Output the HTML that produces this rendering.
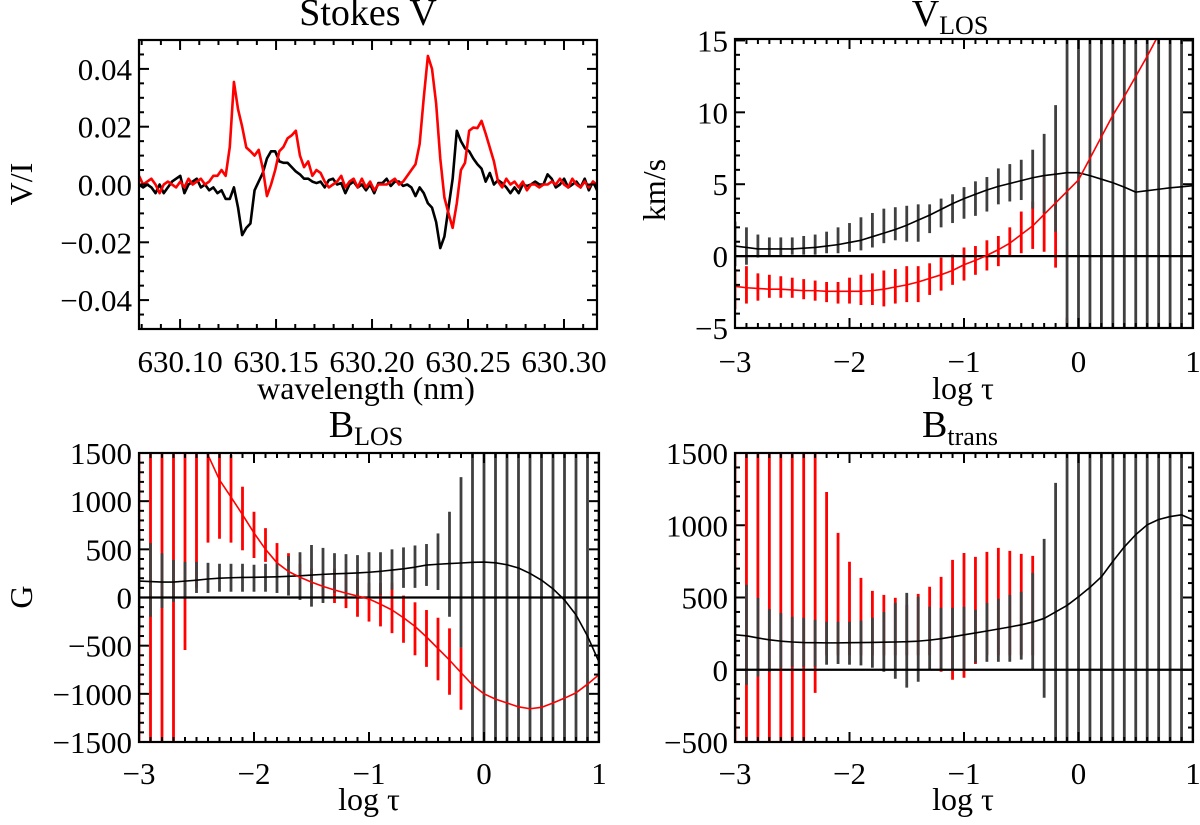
<!DOCTYPE html>
<html><head><meta charset="utf-8"><style>
html,body{margin:0;padding:0;background:#fff;width:1200px;height:825px;overflow:hidden;}
svg{display:block;}
text{font-family:"Liberation Serif","Times New Roman",serif;}
</style></head><body>
<svg id="fig" width="1200" height="825" viewBox="0 0 1200 825" xmlns="http://www.w3.org/2000/svg" font-family="Liberation Serif, serif"></svg>
<script>
// ---------- Stokes V data (Hinode SP-like sampling) ----------
const lambdaStart = 630.0786;
const lambdaStep = 0.00215;
const stokesBlack = [0,-1,0,-1,-3,0,-3,-1,1,2,3,-3,0,1,2,-1,0,-2,-1,-3,-2,-5,-5,-1,-8,-17.5,-15,-13.5,-2,1,4,9,11.5,11.5,8,7.5,7.5,6,4.5,3.5,2,2,1,0.5,1,-1,1.5,2,0,0.5,-3,0,1,-1,0,-2,0,-3,0.5,0.5,2,-0.5,1,1,-0.5,0,-1,-4,-1,-3,-6.5,-8,-13,-22,-18,-8,2,18.6,15,12.5,11.5,9,7,5.5,1,4,0,1.5,0.5,-1,-3,-1,-3,0,-0.5,0,1,0,0,3.5,2,-1,0,2,-1,0,1,-1,2,-2,1,-2];
const stokesRed = [3,0,1,2,0,-3,0,1,0,-1,1,-1,2,0,1,2,0,1,3,3,5,3,13,35.5,26,20,12.8,11.5,10,12,5.5,-4,0,5,11.5,13,16,17,18.6,10,6,8,3,5,4,1,-1,0,1,3,-1,1,2,-1,2,-1,1,-2,0,0,0,1,2,0,1,3,5,7,14,30,44.5,40,28,9,-4.5,-10,-15,-6.5,5,7.5,18.6,19.7,19.5,22,17.6,12.8,8,1,-1,2,0,1,-1,1,-2,0,0,-1,0,0,1,0,2,0,-1,2,0,-1,1,-1,1,0,-2];
const stokesScale = 0.001;

// ---------- log tau grid ----------
const logTau = [-3,-2.9,-2.8,-2.7,-2.6,-2.5,-2.4,-2.3,-2.2,-2.1,-2,-1.9,-1.8,-1.7,-1.6,-1.5,-1.4,-1.3,-1.2,-1.1,-1,-0.9,-0.8,-0.7,-0.6,-0.5,-0.4,-0.3,-0.2,-0.1,0,0.1,0.2,0.3,0.4,0.5,0.6,0.7,0.8,0.9,1];

// ---------- V_LOS ----------
const vlosBlack = [0.7,0.6,0.5,0.5,0.5,0.5,0.55,0.6,0.7,0.8,0.95,1.1,1.35,1.6,1.85,2.15,2.5,2.85,3.25,3.65,4.0,4.3,4.6,4.85,5.05,5.25,5.45,5.6,5.7,5.8,5.8,5.6,5.35,5.1,4.8,4.45,4.55,4.65,4.75,4.82,4.9];
const vlosRed = [-2.1,-2.2,-2.25,-2.3,-2.3,-2.35,-2.4,-2.4,-2.45,-2.45,-2.45,-2.45,-2.4,-2.3,-2.15,-2.0,-1.8,-1.55,-1.3,-1.0,-0.6,-0.3,0.05,0.45,0.9,1.5,2.1,2.9,3.7,4.5,5.3,6.8,8.3,9.8,11.1,12.5,13.9,15.4,17,18.6,20.3];
const vlosBlackLo = [-0.7,-0.6,-0.1,0,0,0.1,0.1,0.1,0.2,0.2,0.3,0.4,0.6,0.9,1.1,1.0,1.0,1.6,2.0,2.3,2.6,2.8,3.1,3.6,3.8,3.9,3.3,3.0,1.7,-99,-99,-99,-99,-99,-99,-99,-99,-99,-99,-99,-99];
const vlosBlackHi = [2.4,2.0,1.5,1.3,1.3,1.3,1.4,1.5,1.7,2.0,2.3,2.7,3.0,3.3,3.4,3.5,3.6,3.6,4.0,4.3,4.8,5.2,5.5,6.1,6.4,6.7,7.4,8.5,10.5,99,99,99,99,99,99,99,99,99,99,99,99];
const vlosRedLo = [-3.7,-3.3,-3.1,-2.9,-2.9,-2.9,-3.0,-3.1,-3.2,-3.3,-3.3,-3.4,-3.4,-3.5,-3.3,-3.2,-3.2,-2.7,-2.4,-2.0,-1.7,-1.3,-1.0,-0.7,0.0,0.2,0.5,0.3,-0.8,-12,null,null,null,null,null,null,null,null,null,null,null];
const vlosRedHi = [-0.9,-0.7,-1.2,-1.3,-1.4,-1.5,-1.6,-1.7,-1.8,-1.8,-1.5,-1.3,-1.2,-1.0,-0.9,-0.7,-0.7,-0.5,-0.1,0.1,0.6,0.7,1.1,1.4,2.0,3.1,3.8,5.5,6.0,-4.3,null,null,null,null,null,null,null,null,null,null,null];

// ---------- B_LOS ----------
const blosBlack = [171,165,160,160,170,180,192,200,205,208,210,212,215,220,225,233,240,246,250,255,262,272,285,298,315,337,345,352,358,365,368,360,340,306,250,180,90,-26,-180,-400,-670];
const blosRed = [2600,2450,2300,2150,1950,1700,1480,1220,1043,860,670,500,360,270,210,160,115,78,45,15,-15,-70,-130,-210,-300,-410,-530,-650,-780,-907,-1000,-1055,-1095,-1135,-1155,-1140,-1095,-1045,-990,-900,-800];
const blosBlackLo = [-340,-200,-110,-45,-15,47,47,60,60,60,60,60,47,20,-25,-95,-57,47,15,10,10,25,80,100,100,120,78,-200,-520,-9999,-9999,-9999,-9999,-9999,-9999,-9999,-9999,-9999,-9999,-9999,-9999];
const blosBlackHi = [680,565,460,390,370,370,360,350,350,350,340,350,370,430,470,545,515,460,450,440,470,470,500,520,540,555,665,890,1250,9999,9999,9999,9999,9999,9999,9999,9999,9999,9999,9999,9999];
const blosRedLo = [-9999,-9999,-9999,-9999,-545,100,570,610,570,490,410,370,370,380,200,100,0,-57,-110,-200,-250,-300,-370,-470,-600,-720,-860,-1010,-1165,null,null,null,null,null,null,null,null,null,null,null,null];
const blosRedHi = [9999,9999,9999,9999,9999,9999,9999,9999,1480,1150,890,720,565,460,350,300,250,300,250,200,150,150,150,20,-50,-130,-210,-320,-520,null,null,null,null,null,null,null,null,null,null,null,null];

// ---------- B_trans ----------
const btrBlack = [242,235,220,207,198,192,188,187,186,186,187,188,189,191,192,194,198,205,215,228,242,255,268,282,296,311,330,355,400,445,505,570,643,750,850,935,1003,1040,1060,1072,1037];
const btrBlackLo = [-207,-104,-48,-14,14,20,20,20,35,40,35,30,14,-14,-62,-124,-83,0,0,0,0,48,55,55,55,70,0,-194,-9999,-9999,-9999,-9999,-9999,-9999,-9999,-9999,-9999,-9999,-9999,-9999,-9999];
const btrBlackHi = [705,588,498,420,393,367,360,346,332,332,332,340,360,400,463,532,505,436,429,429,436,415,463,491,518,540,670,906,1293,9999,9999,9999,9999,9999,9999,9999,9999,9999,9999,9999,9999];
const btrRedLo = [-9999,-9999,-9999,-9999,-9999,-9999,-9999,-160,100,100,100,100,100,100,100,100,100,100,-14,-69,-55,40,100,100,100,100,100,null,null,null,null,null,null,null,null,null,null,null,null,null,null];
const btrRedHi = [9999,9999,9999,9999,9999,9999,9999,9999,1230,947,747,636,546,518,498,450,525,574,643,760,808,781,816,843,823,802,788,null,null,null,null,null,null,null,null,null,null,null,null,null,null];

// ---------- tick labels ----------
const stokesXTicks = [630.10,630.15,630.20,630.25,630.30];
const stokesXLabels = ["630.10","630.15","630.20","630.25","630.30"];
const stokesYTicks = [-0.04,-0.02,0,0.02,0.04];
const stokesYLabels = ["\u22120.04","\u22120.02","0.00","0.02","0.04"];
const tauTicks = [-3,-2,-1,0,1];
const tauLabels = ["\u22123","\u22122","\u22121","0","1"];
const vlosYTicks = [-5,0,5,10,15];
const vlosYLabels = ["\u22125","0","5","10","15"];
const blosYTicks = [-1500,-1000,-500,0,500,1000,1500];
const blosYLabels = ["\u22121500","\u22121000","\u2212500","0","500","1000","1500"];
const btrYTicks = [-500,0,500,1000,1500];
const btrYLabels = ["\u2212500","0","500","1000","1500"];

const NS = "http://www.w3.org/2000/svg";
const FONT = '"Liberation Serif", "Times New Roman", serif';
const TICKFS = 31;
const LABFS = 32;
const svg = document.getElementById('fig');
function mk(tag, attrs, parent){
  const e = document.createElementNS(NS, tag);
  for (const k in attrs) e.setAttribute(k, attrs[k]);
  (parent||svg).appendChild(e);
  return e;
}
function linScale(d0,d1,r0,r1){ return v => r0 + (v-d0)/(d1-d0)*(r1-r0); }

function makePanel(p){
  const g = mk('g', {});
  
  
  const X = linScale(p.xd[0],p.xd[1],p.x0,p.x1);
  const Y = linScale(p.yd[0],p.yd[1],p.y1,p.y0);
  const cp = mk('clipPath', {id:'clip-'+p.name}, g);
  mk('rect', {x:p.x0, y:p.y0, width:p.x1-p.x0, height:p.y1-p.y0}, cp);
  const plot = mk('g', {'clip-path':'url(#clip-'+p.name+')'}, g);
  
  
  return {g, plot, X, Y, p};
}
function clampY(P, v){ return Math.max(P.p.yd[0], Math.min(P.p.yd[1], v)); }

function errBars(P, xs, lo, hi, color, name){
  const grp = mk('g', {}, P.plot);
  
  
  for (let i=0;i<xs.length;i++){
    if (lo[i]===null || hi[i]===null) continue;
    const l = mk('line', {x1:P.X(xs[i]), x2:P.X(xs[i]), y1:P.Y(clampY(P,lo[i])), y2:P.Y(clampY(P,hi[i])), stroke:color, 'stroke-width':2.8}, grp);
    
    
  }
}
function curve(P, xs, ys, color, w, name){
  let d = '';
  const pad = (P.p.yd[1]-P.p.yd[0])*0.3;
  for (let i=0;i<xs.length;i++){
    const v = Math.max(P.p.yd[0]-pad, Math.min(P.p.yd[1]+pad, ys[i]));
    d += (i?'L':'M') + P.X(xs[i]).toFixed(2) + ',' + P.Y(v).toFixed(2);
  }
  const e = mk('path', {d, fill:'none', stroke:color, 'stroke-width':w, 'stroke-linejoin':'round'}, P.plot);
  
  
}
function zeroLine(P){
  const e = mk('line', {x1:P.p.x0, x2:P.p.x1, y1:P.Y(0), y2:P.Y(0), stroke:'#000', 'stroke-width':2.2}, P.plot);
  
  
}
function axes(P, xt, xl, xminStep, yt, yl, yminStep, xLabY){
  const p = P.p, g = P.g;
  const fr = mk('rect', {x:p.x0, y:p.y0, width:p.x1-p.x0, height:p.y1-p.y0, fill:'none', stroke:'#000', 'stroke-width':2.2}, g);
  
  
  const tg = mk('g', {stroke:'#000', 'stroke-width':2}, g);
  
  
  const lo = Math.min(p.xd[0],p.xd[1]), hi = Math.max(p.xd[0],p.xd[1]);
  for (let v=Math.ceil(lo/xminStep-1e-6)*xminStep; v<=hi+1e-9; v+=xminStep){
    const isMaj = xt.some(t=>Math.abs(t-v)<xminStep*0.1);
    const L = isMaj?10:5, x=P.X(v);
    mk('line',{x1:x,x2:x,y1:p.y1,y2:p.y1-L},tg);
    mk('line',{x1:x,x2:x,y1:p.y0,y2:p.y0+L},tg);
  }
  for (let v=Math.ceil(p.yd[0]/yminStep-1e-6)*yminStep; v<=p.yd[1]+1e-9; v+=yminStep){
    const isMaj = yt.some(t=>Math.abs(t-v)<yminStep*0.1);
    const L = isMaj?10:5, y=P.Y(v);
    mk('line',{x1:p.x0,x2:p.x0+L,y1:y,y2:y},tg);
    mk('line',{x1:p.x1,x2:p.x1-L,y1:y,y2:y},tg);
  }
  for (let i=0;i<xt.length;i++){
    const t = mk('text',{x:P.X(xt[i]), y:xLabY, 'text-anchor':'middle', 'font-size':TICKFS, 'font-family':FONT}, g);
    t.textContent = xl[i];
    
    
  }
  for (let i=0;i<yt.length;i++){
    const t = mk('text',{x:p.x0-7, y:P.Y(yt[i])+11, 'text-anchor':'end', 'font-size':TICKFS, 'font-family':FONT}, g);
    t.textContent = yl[i];
    
    
  }
}
function label(txt, x, y, rot, name, sub, fs){
  const t = mk('text', {x, y, 'text-anchor':'middle', 'font-size':fs||LABFS, 'font-family':FONT, transform: rot?('rotate(-90 '+x+' '+y+')'):''});
  
  
  t.textContent = txt;
  if (sub){
    const s = mk('tspan', {'font-size':26, dy:8}, t);
    s.textContent = sub;
  }
  return t;
}

// ---------- Panel 1: Stokes V ----------
const lambdas = stokesBlack.map((_,i)=>lambdaStart + i*lambdaStep);
const P1 = makePanel({name:'stokes-v-panel', xd:[630.0786,630.3172], yd:[-0.05,0.05], x0:139, x1:597, y0:40, y1:329});
curve(P1, lambdas, stokesBlack.map(v=>v*stokesScale), '#000', 2.6, 'stokes-v-observed');
curve(P1, lambdas, stokesRed.map(v=>v*stokesScale), '#ff0000', 2.6, 'stokes-v-fit');
axes(P1, stokesXTicks, stokesXLabels, 0.01, stokesYTicks, stokesYLabels, 0.005, 372);
label('Stokes V', 368, 25, false, 'stokes-v-title', null, 38);
label('wavelength (nm)', 366, 399, false, 'x-axis-title-wavelength');
label('V/I', 32, 184, true, 'y-axis-title-vi');

// ---------- Panel 2: V_LOS ----------
const P2 = makePanel({name:'vlos-panel', xd:[-3,1], yd:[-5,15.1], x0:735, x1:1193, y0:39, y1:328});
errBars(P2, logTau, vlosRedLo, vlosRedHi, '#ff0000', 'vlos-red-errorbars');
errBars(P2, logTau, vlosBlackLo, vlosBlackHi, '#404040', 'vlos-black-errorbars');
zeroLine(P2);
curve(P2, logTau, vlosBlack, '#000', 1.6, 'vlos-black-curve');
curve(P2, logTau, vlosRed, '#ff0000', 1.6, 'vlos-red-curve');
axes(P2, tauTicks, tauLabels, 0.1, vlosYTicks, vlosYLabels, 1, 372);
label('V', 950, 26, false, 'vlos-title', 'LOS', 38);
label('log \u03c4', 963, 399, false, 'x-axis-title-logtau-top');
label('km/s', 665, 190, true, 'y-axis-title-kms');

// ---------- Panel 3: B_LOS ----------
const P3 = makePanel({name:'blos-panel', xd:[-3,1], yd:[-1500,1500], x0:139, x1:599, y0:453, y1:742});
errBars(P3, logTau, blosRedLo, blosRedHi, '#ff0000', 'blos-red-errorbars');
errBars(P3, logTau, blosBlackLo, blosBlackHi, '#404040', 'blos-black-errorbars');
zeroLine(P3);
curve(P3, logTau, blosBlack, '#000', 1.6, 'blos-black-curve');
curve(P3, logTau, blosRed, '#ff0000', 1.6, 'blos-red-curve');
axes(P3, tauTicks, tauLabels, 0.1, blosYTicks, blosYLabels, 100, 784);
label('B', 366, 437, false, 'blos-title', 'LOS', 38);
label('log \u03c4', 369, 810, false, 'x-axis-title-logtau-bl');
label('G', 32, 597, true, 'y-axis-title-gauss');

// ---------- Panel 4: B_trans ----------
const P4 = makePanel({name:'btrans-panel', xd:[-3,1], yd:[-500,1500], x0:735, x1:1193, y0:453, y1:742});
errBars(P4, logTau, btrRedLo, btrRedHi, '#ff0000', 'btrans-red-errorbars');
errBars(P4, logTau, btrBlackLo, btrBlackHi, '#404040', 'btrans-black-errorbars');
zeroLine(P4);
curve(P4, logTau, btrBlack, '#000', 1.6, 'btrans-black-curve');
axes(P4, tauTicks, tauLabels, 0.1, btrYTicks, btrYLabels, 100, 784);
label('B', 960, 437, false, 'btrans-title', 'trans', 38);
label('log \u03c4', 963, 810, false, 'x-axis-title-logtau-br');
</script>
</body></html>
